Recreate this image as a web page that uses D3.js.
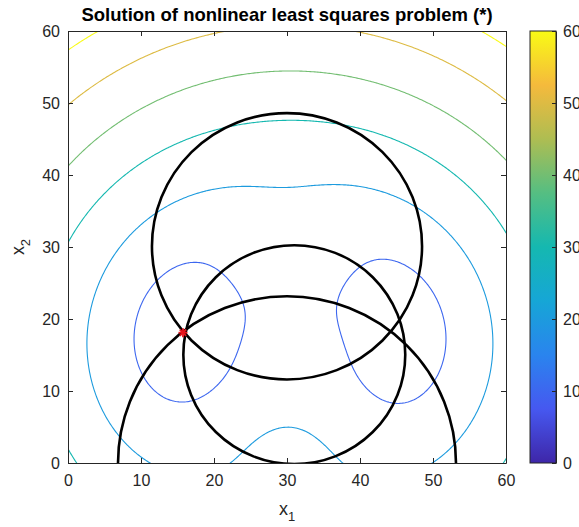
<!DOCTYPE html>
<html>
<head>
<meta charset="utf-8">
<script src="https://cdn.jsdelivr.net/npm/d3@7"></script>
<style>
body { margin: 0; background: #fff; }
text { font-family: "Liberation Sans", Arial, Helvetica, sans-serif; }
</style>
</head>
<body>
<div id="chart"></div>
<script>
// circle centres and radii (one circle per measurement)
var centerX = [30, 31, 30];
var centerY = [30.1, 15.05, 0];
var radius = [18.5, 15.2, 23.15];

// contour levels of the residual norm
var levels = [10, 20, 30, 40, 50, 60];

// tick labels
var xTicks = [0, 10, 20, 30, 40, 50, 60];
var yTicks = [0, 10, 20, 30, 40, 50, 60];
var cbarTicks = [0, 10, 20, 30, 40, 50, 60];

// least squares solution (*)
var solution = [15.75, 18.1];

// SET UP DIMENSIONS
var w = 579, h = 527;
var plot = {left: 68, right: 506, top: 31, bottom: 463};
var cbar = {left: 530, right: 556};
var axisColor = '#262626';

var svg = d3.select('#chart').append('svg')
  .attr('width', w)
  .attr('height', h);

var xScale = d3.scaleLinear().domain([0, 60]).range([plot.left, plot.right]);
var yScale = d3.scaleLinear().domain([0, 60]).range([plot.bottom, plot.top]);
var cScale = d3.scaleLinear().domain([0, 60]).range([plot.bottom, plot.top]);

// parula-like colormap
var parulaStops = ['#3e26a8', '#4658f0', '#2a84ee', '#16a6d6', '#15b8b0',
                   '#55be82', '#aebd52', '#f5ba3c', '#f9fb15'];
var colour = d3.scaleLinear()
  .domain(parulaStops.map(function(d, i) { return i / (parulaStops.length - 1) * 60; }))
  .range(parulaStops);

// residual norm of distances to the circles
function residual(px, py) {
  var s = 0;
  for (var i = 0; i < radius.length; i++) {
    var d = Math.hypot(px - centerX[i], py - centerY[i]) - radius[i];
    s += d * d;
  }
  return Math.sqrt(s);
}

// sample grid
var step = 0.2, x0 = -1, y0 = -1;
var n = Math.round(62 / step) + 1;
var grid = new Array(n * n);
for (var j = 0; j < n; j++) {
  for (var i = 0; i < n; i++) {
    grid[j * n + i] = residual(x0 + i * step, y0 + j * step);
  }
}

var contours = d3.contours().size([n, n]).thresholds(levels)(grid);

var proj = d3.geoTransform({
  point: function(gx, gy) {
    this.stream.point(xScale(x0 + (gx - 0.5) * step), yScale(y0 + (gy - 0.5) * step));
  }
});
var path = d3.geoPath(proj);

svg.append('clipPath').attr('id', 'clip')
  .append('rect')
  .attr('x', plot.left).attr('y', plot.top)
  .attr('width', plot.right - plot.left)
  .attr('height', plot.bottom - plot.top);

var area = svg.append('g').attr('clip-path', 'url(#clip)');

area.selectAll('path.contour')
  .data(contours)
  .enter().append('path')
  .attr('class', 'contour')
  .attr('d', path)
  .attr('fill', 'none')
  .attr('stroke', function(d) { return colour(d.value); })
  .attr('stroke-width', 1.1);

// DRAW CIRCLES
area.selectAll('ellipse.circ')
  .data(radius)
  .enter().append('ellipse')
  .attr('class', 'circ')
  .attr('cx', function(d, i) { return xScale(centerX[i]); })
  .attr('cy', function(d, i) { return yScale(centerY[i]); })
  .attr('rx', function(d) { return xScale(d) - xScale(0); })
  .attr('ry', function(d) { return yScale(0) - yScale(d); })
  .attr('fill', 'none')
  .attr('stroke', '#000')
  .attr('stroke-width', 2.6);

// solution marker (asterisk)
var mx = xScale(solution[0]), my = yScale(solution[1]);
var star = svg.append('g').attr('transform', 'translate(' + mx + ',' + my + ')');
[0, 45, 90, 135].forEach(function(a) {
  var r = a * Math.PI / 180, l = 4.5;
  star.append('line')
    .attr('x1', -l * Math.cos(r)).attr('y1', -l * Math.sin(r))
    .attr('x2', l * Math.cos(r)).attr('y2', l * Math.sin(r))
    .attr('stroke', '#e8141c').attr('stroke-width', 1.8);
});

// DRAW AXES
function styleAxis(g) {
  g.selectAll('path, line').attr('stroke', axisColor);
  g.selectAll('text').attr('fill', axisColor).style('font-size', '16px');
}

svg.append('g')
  .attr('transform', 'translate(0,' + plot.bottom + ')')
  .call(d3.axisBottom(xScale).tickValues(xTicks).tickSizeInner(-5).tickSizeOuter(0).tickPadding(12))
  .call(styleAxis);

svg.append('g')
  .attr('transform', 'translate(0,' + plot.top + ')')
  .call(d3.axisTop(xScale).tickValues(xTicks).tickSizeInner(-5).tickSizeOuter(0).tickFormat(''))
  .call(styleAxis);

svg.append('g')
  .attr('transform', 'translate(' + plot.left + ',0)')
  .call(d3.axisLeft(yScale).tickValues(yTicks).tickSizeInner(-5).tickSizeOuter(0).tickPadding(8))
  .call(styleAxis);

svg.append('g')
  .attr('transform', 'translate(' + plot.right + ',0)')
  .call(d3.axisRight(yScale).tickValues(yTicks).tickSizeInner(-5).tickSizeOuter(0).tickFormat(''))
  .call(styleAxis);

// COLORBAR
var grad = svg.append('defs').append('linearGradient')
  .attr('id', 'parula')
  .attr('x1', 0).attr('y1', 1).attr('x2', 0).attr('y2', 0);
parulaStops.forEach(function(c, i) {
  grad.append('stop')
    .attr('offset', (i / (parulaStops.length - 1) * 100) + '%')
    .attr('stop-color', c);
});

svg.append('rect')
  .attr('x', cbar.left).attr('y', plot.top)
  .attr('width', cbar.right - cbar.left)
  .attr('height', plot.bottom - plot.top)
  .attr('fill', 'url(#parula)')
  .attr('stroke', axisColor)
  .attr('stroke-width', 1);

svg.append('g')
  .attr('transform', 'translate(' + cbar.right + ',0)')
  .call(d3.axisRight(cScale).tickValues(cbarTicks).tickSizeInner(-4).tickSizeOuter(0).tickPadding(7))
  .call(styleAxis);

// TITLE AND LABELS
svg.append('text')
  .attr('x', (plot.left + plot.right) / 2)
  .attr('y', 21)
  .attr('text-anchor', 'middle')
  .attr('fill', '#000')
  .style('font-size', '18.5px')
  .style('font-weight', 'bold')
  .text('Solution of nonlinear least squares problem (*)');

var xl = svg.append('text')
  .attr('x', (plot.left + plot.right) / 2)
  .attr('y', 515)
  .attr('text-anchor', 'middle')
  .attr('fill', axisColor)
  .style('font-size', '18px');
xl.append('tspan').text('x');
xl.append('tspan').attr('dy', 6).style('font-size', '13px').text('1');

var yl = svg.append('text')
  .attr('transform', 'translate(24,' + ((plot.top + plot.bottom) / 2) + ') rotate(-90)')
  .attr('text-anchor', 'middle')
  .attr('fill', axisColor)
  .style('font-size', '18px');
yl.append('tspan').text('x');
yl.append('tspan').attr('dy', 6).style('font-size', '13px').text('2');
</script>
</body>
</html>
